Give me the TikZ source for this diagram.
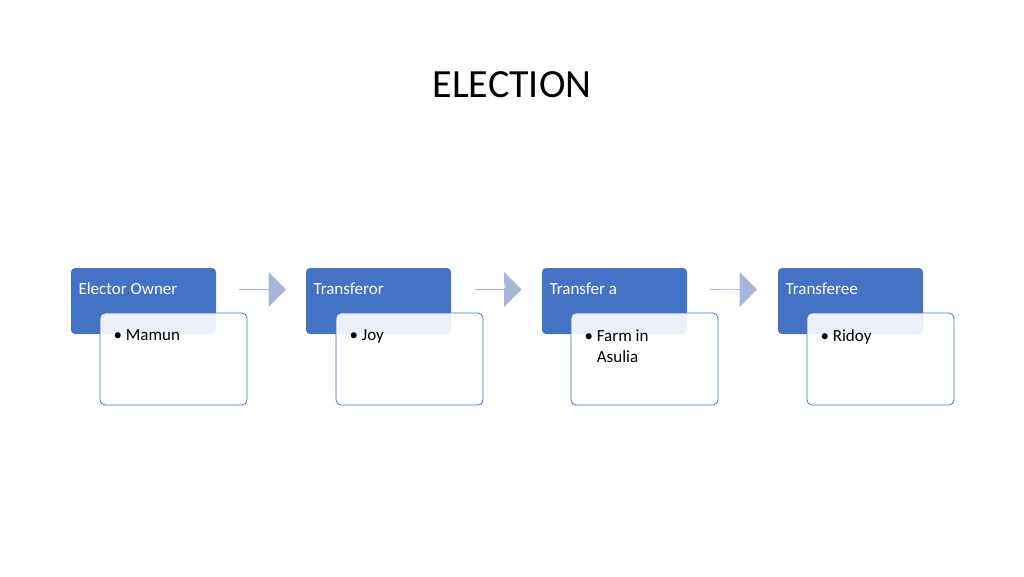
\documentclass[tikz,border=0pt]{standalone}
\usepackage{fontspec}
\setmainfont{Carlito}
\usetikzlibrary{shapes.arrows}
\definecolor{blu}{HTML}{4472C4}
\definecolor{arr}{HTML}{A9B6DC}
\begin{document}
\begin{tikzpicture}[x=1pt,y=-1pt,
 head/.style={fill=blu,rounded corners=4pt,draw=none},
 body/.style={fill=white,fill opacity=0.9,draw=blu,rounded corners=5pt,line width=0.8pt},
 htxt/.style={anchor=west,text=white,font=\fontsize{17}{20}\selectfont},
 btxt/.style={anchor=north west,align=left,font=\fontsize{17}{21}\selectfont,text opacity=1},
 arrshape/.style={single arrow,fill=arr,draw=none,minimum width=35pt,minimum height=47pt,single arrow head extend=7.5pt,inner sep=0pt,anchor=center}]
\useasboundingbox (0,0) rectangle (1024,576);
\node (title) at (512,85) {\fontsize{40}{48}\selectfont ELECTION};
\foreach \i/\hx/\bx/\h/\b in {1/71/100/Elector Owner/{• Mamun},2/306/336/Transferor/{• Joy},3/542/571/Transfer a/{• Farm in\\\hphantom{• }Asulia},4/778/807/Transferee/{• Ridoy}}{
 \fill[head] (\hx,268) rectangle +(145,66);
 \node[htxt] (h\i) at (\hx+4,289) {\h};
 \draw[body] (\bx,313) rectangle +(147,92);
 \node[btxt] (b\i) at (\bx+10,326) {\b};
}
\node[arrshape] (a1) at (262.5,289.5) {};
\node[arrshape] (a2) at (498,289.5) {};
\node[font=\fontsize{9}{9}\selectfont,text=white,align=center,inner sep=0pt] (l2) at (493,290) {Profess\\to};
\node[arrshape] (a3) at (733.5,289.5) {};
\node[font=\fontsize{13}{13}\selectfont,text=white] (l3) at (728,290) {To};
\end{tikzpicture}
\end{document}
